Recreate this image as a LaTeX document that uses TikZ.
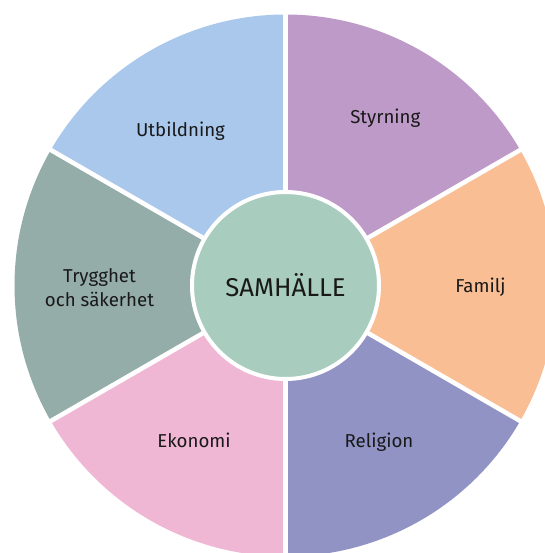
\documentclass[tikz,border=0pt]{standalone}
\usepackage{fontspec}
\setmainfont{Fira Sans}
\definecolor{cUtb}{HTML}{A9C8EC}
\definecolor{cSty}{HTML}{BE9AC8}
\definecolor{cFam}{HTML}{F9BE94}
\definecolor{cRel}{HTML}{9193C5}
\definecolor{cEko}{HTML}{F0B7D5}
\definecolor{cTry}{HTML}{94ADA8}
\definecolor{cMid}{HTML}{A8CDBE}
\begin{document}
\begin{tikzpicture}[x=0.75pt,y=0.75pt,
  sector/.style={draw=none},
  gapline/.style={draw=white,line width=3.4pt},
  lbl/.style={font=\fontsize{14}{18}\selectfont,text=black!90,inner sep=0pt,anchor=base},
  hub/.style={circle,fill=cMid,draw=white,line width=3pt,minimum size=187*0.75pt,inner sep=0pt,
    font=\fontsize{19.3}{22}\selectfont,text=black!90}]
\useasboundingbox (0,0) rectangle (545,553);
\clip (0,0) rectangle (545,553);
\coordinate (C) at (285.5,267.5);
\def\R{271}
\fill[cSty] (C) -- ++(30:\R) arc[start angle=30,end angle=90,radius=\R] -- cycle;
\fill[cUtb] (C) -- ++(90:\R) arc[start angle=90,end angle=150,radius=\R] -- cycle;
\fill[cTry] (C) -- ++(150:\R) arc[start angle=150,end angle=210,radius=\R] -- cycle;
\fill[cEko] (C) -- ++(210:\R) arc[start angle=210,end angle=270,radius=\R] -- cycle;
\fill[cRel] (C) -- ++(270:\R) arc[start angle=270,end angle=330,radius=\R] -- cycle;
\fill[cFam] (C) -- ++(330:\R) arc[start angle=330,end angle=390,radius=\R] -- cycle;
\foreach \a in {30,90,150,210,270,330}{
  \draw[gapline] (C) -- ++(\a:\R+10);
}
\node[hub] (hub) at (C) {SAMHÄLLE};
\node[lbl] (utb) at (180.5,416.3) {Utbildning};
\node[lbl] (sty) at (385.3,429.7) {Styrning};
\node[lbl] (fam) at (480.5,260) {Familj};
\node[lbl] (rel) at (379,105) {Religion};
\node[lbl] (eko) at (194,105) {Ekonomi};
\node[lbl,anchor=center,align=center,font=\fontsize{14}{18}\selectfont] (try) at (99.5,265) {Trygghet\\och säkerhet};
\end{tikzpicture}
\end{document}
